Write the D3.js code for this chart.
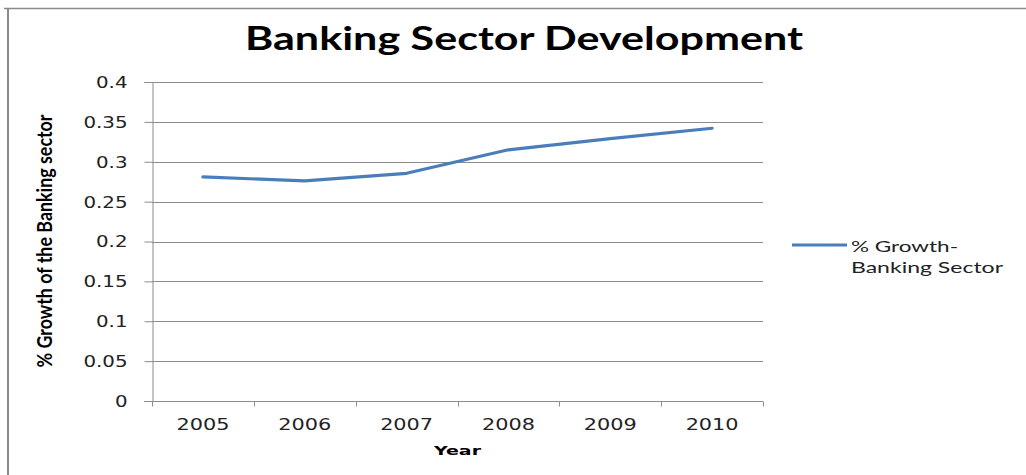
<!DOCTYPE html>
<html>
<head>
<meta charset="utf-8">
<script src="https://cdn.jsdelivr.net/npm/d3@7"></script>
<style>
  html, body { margin: 0; padding: 0; background: #fff; }
  svg { display: block; }
</style>
</head>
<body>
<svg id="chart" width="1026" height="475"></svg>
<script>
// Banking sector growth, 2005–2010
const years = ["2005", "2006", "2007", "2008", "2009", "2010"];
const growth = [0.281, 0.276, 0.2855, 0.315, 0.329, 0.342];
const yTicks = [0, 0.05, 0.1, 0.15, 0.2, 0.25, 0.3, 0.35, 0.4];
const yTickLabels = ["0", "0.05", "0.1", "0.15", "0.2", "0.25", "0.3", "0.35", "0.4"];
const seriesName = ["% Growth-", "Banking Sector"];

const svg = d3.select("#chart");
const W = 1026, H = 475;
const plot = { left: 152, right: 763, top: 82, bottom: 401 };
const gridColor = "#8c8c8c";
const lineColor = "#4a7ebb";
const calibriLike = "Lato, 'Open Sans', sans-serif";
const verdanaLike = "'DejaVu Sans', Verdana, sans-serif";

svg.append("rect").attr("width", W).attr("height", H).attr("fill", "#fff");

// frame edges (top and left)
svg.append("line").attr("x1", 4).attr("x2", W).attr("y1", 8.5).attr("y2", 8.5)
  .attr("stroke", "#8a8a8a").attr("stroke-width", 1.5);
svg.append("line").attr("x1", 8).attr("x2", 8).attr("y1", 8).attr("y2", H)
  .attr("stroke", "#8a8a8a").attr("stroke-width", 2);

const x = d3.scaleBand().domain(years).range([plot.left, plot.right]);
const y = d3.scaleLinear().domain([0, 0.4]).range([plot.bottom, plot.top]);

// horizontal gridlines
svg.append("g").selectAll("line").data(yTicks.slice(1)).join("line")
  .attr("x1", plot.left).attr("x2", plot.right)
  .attr("y1", d => Math.round(y(d)) + 0.5).attr("y2", d => Math.round(y(d)) + 0.5)
  .attr("stroke", gridColor).attr("stroke-width", 1);

// y axis
const yAxis = svg.append("g")
  .attr("transform", `translate(${plot.left + 0.5},0)`)
  .call(d3.axisLeft(y).tickValues(yTicks)
    .tickFormat((d, i) => yTickLabels[i]).tickSize(8).tickPadding(17));
yAxis.select(".domain").attr("stroke", gridColor);
yAxis.selectAll(".tick line").attr("stroke", gridColor);
yAxis.selectAll(".tick text")
  .attr("font-family", verdanaLike).attr("font-size", 15).attr("fill", "#222")
  .attr("dy", "0.36em")
  .attr("textLength", function () { return this.getComputedTextLength() * 1.32; })
  .attr("lengthAdjust", "spacingAndGlyphs");

// x axis: labels centred in each category, tick marks on the category edges
const xAxis = svg.append("g")
  .attr("transform", `translate(0,${plot.bottom + 0.5})`)
  .call(d3.axisBottom(x).tickSize(0).tickPadding(17));
xAxis.select(".domain").remove();
xAxis.selectAll(".tick text")
  .attr("font-family", verdanaLike).attr("font-size", 16).attr("fill", "#222")
  .attr("textLength", function () { return this.getComputedTextLength() * 1.3; })
  .attr("lengthAdjust", "spacingAndGlyphs");
xAxis.append("line").attr("x1", plot.left - 8).attr("x2", plot.right)
  .attr("stroke", gridColor);
const edges = years.map(d => x(d)).concat([x.range()[1]]);
xAxis.selectAll("line.edge").data(edges).join("line").attr("class", "edge")
  .attr("x1", d => Math.round(d) + 0.5).attr("x2", d => Math.round(d) + 0.5)
  .attr("y1", 0).attr("y2", 5).attr("stroke", gridColor);

// data line
const line = d3.line()
  .x((d, i) => x(years[i]) + x.bandwidth() / 2)
  .y(d => y(d));
svg.append("path").datum(growth)
  .attr("d", line).attr("fill", "none")
  .attr("stroke", lineColor).attr("stroke-width", 3.2)
  .attr("stroke-linejoin", "round").attr("stroke-linecap", "round");

// title
svg.append("text")
  .attr("x", 524).attr("y", 50).attr("text-anchor", "middle")
  .attr("font-family", calibriLike).attr("font-weight", "bold")
  .attr("font-size", 33).attr("fill", "#000")
  .attr("textLength", 558).attr("lengthAdjust", "spacingAndGlyphs")
  .text("Banking Sector Development");

// axis titles
svg.append("text")
  .attr("transform", "translate(52,241) rotate(-90)")
  .attr("text-anchor", "middle")
  .attr("font-family", calibriLike).attr("font-weight", "bold")
  .attr("font-size", 21).attr("fill", "#000")
  .attr("textLength", 253).attr("lengthAdjust", "spacingAndGlyphs")
  .text("% Growth of the Banking sector");

svg.append("text")
  .attr("x", (plot.left + plot.right) / 2).attr("y", 455).attr("text-anchor", "middle")
  .attr("font-family", verdanaLike).attr("font-weight", "bold")
  .attr("font-size", 13).attr("fill", "#000")
  .attr("textLength", 47).attr("lengthAdjust", "spacingAndGlyphs")
  .text("Year");

// legend
const legend = svg.append("g");
legend.append("line").attr("x1", 792).attr("x2", 847).attr("y1", 245).attr("y2", 245)
  .attr("stroke", lineColor).attr("stroke-width", 3.2);
const legendWidths = [107, 152];
legend.selectAll("text").data(seriesName).join("text")
  .attr("x", 851).attr("y", (d, i) => 252 + i * 21)
  .attr("font-family", calibriLike).attr("font-size", 16).attr("fill", "#222")
  .attr("textLength", (d, i) => legendWidths[i]).attr("lengthAdjust", "spacingAndGlyphs")
  .text(d => d);
</script>
</body>
</html>
